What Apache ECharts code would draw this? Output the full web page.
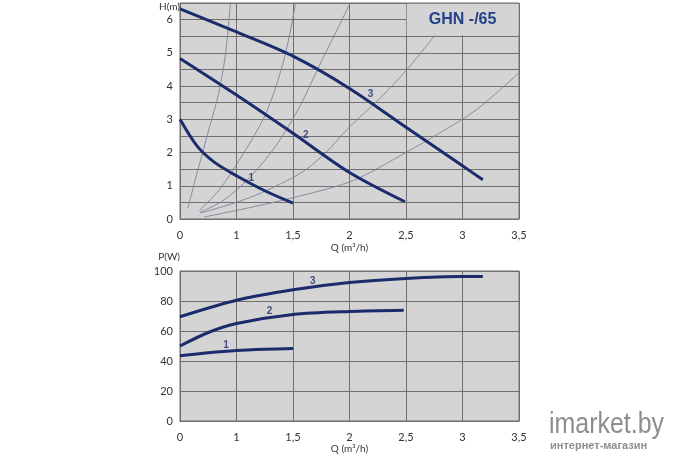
<!DOCTYPE html>
<html><head><meta charset="utf-8">
<script src="https://cdn.jsdelivr.net/npm/echarts@6/dist/echarts.min.js"></script>
<style>html,body{margin:0;padding:0;background:#fff}#c{width:680px;height:460px}</style>
</head><body><div id="c"></div>
<script>
// ---- data ----
// x axis: evenly spaced gridlines labelled as in the original
const qTickLabels = ['0', '1', '1,5', '2', '2,5', '3', '3,5'];
const hTickLabels = ['0', '1', '2', '3', '4', '5', '6'];
const pTickLabels = ['0', '20', '40', '60', '80', '100'];
const curveNames = ['1', '2', '3'];
const chartTitle = 'GHN -/65';

// pump head curves H(Q) for speeds 1..3
const head1 = [[0.5, 3.0], [0.65, 2.2], [0.8, 1.72], [1.0, 1.3], [1.25, 0.85], [1.5, 0.48]];
const head2 = [[0.5, 4.83], [1.0, 3.73], [1.5, 2.58], [2.0, 1.4], [2.49, 0.52]];
const head3 = [[0.5, 6.32], [0.75, 5.98], [1.0, 5.63], [1.5, 4.9], [2.0, 3.93], [2.5, 2.76], [3.0, 1.6], [3.18, 1.18]];

// thin system curves
const sysA = [[0.569, 0.33], [0.66, 1.5], [0.76, 2.75], [0.84, 3.75], [0.9, 4.9], [0.95, 6.6]];
const sysB = [[0.671, 0.25], [0.848, 0.88], [1.026, 1.78], [1.262, 3.19], [1.424, 4.85], [1.528, 6.59]];
const sysC = [[0.677, 0.2], [0.893, 0.58], [1.114, 1.24], [1.336, 2.14], [1.543, 3.28], [1.764, 4.83], [2.02, 6.59]];
const sysD = [[0.683, 0.18], [1.114, 0.64], [1.558, 1.36], [1.78, 1.96], [2.0, 2.77], [2.266, 3.62], [2.504, 4.48], [2.756, 5.53]];
const sysE = [[0.713, 0.06], [1.114, 0.34], [1.498, 0.64], [2.027, 1.15], [2.504, 2.01], [2.799, 2.59], [3.124, 3.29], [3.5, 4.4]];

// power curves P(Q)
const pow1 = [[0.5, 43.5], [0.75, 45.5], [1.0, 47], [1.25, 47.8], [1.5, 48.3]];
const pow2 = [[0.5, 50], [0.75, 59], [1.0, 65], [1.5, 71], [2.0, 73], [2.48, 73.8]];
const pow3 = [[0.5, 69.5], [1.0, 80.5], [1.5, 87.5], [2.0, 92.3], [2.5, 95.0], [3.0, 96.3], [3.18, 96.3]];

// curve number label anchors
const headLabelPos = [[1.13, 1.22], [1.613, 2.53], [2.187, 3.75]];
const powLabelPos = [[0.908, 50.5], [1.292, 73.3], [1.676, 93.3]];

// ---- styles ----
const navy = '#1b2b6b';
const thinColor = '#7d8499';
const plotBg = '#d4d4d4';
const gridColor = '#6f6f6f';
const txt = '#333';
const fam = 'Lato, "Liberation Sans", sans-serif';

function qLabel(v) { const i = Math.round((v - 0.5) / 0.5); return qTickLabels[i] ?? ''; }
function hLabel(v) { return Math.abs(v - Math.round(v)) < 1e-6 ? (hTickLabels[Math.round(v)] ?? '') : ''; }
function pLabel(v) { return pTickLabels[Math.round(v / 20)] ?? ''; }

function xAxis(gridIndex, nameGap) {
  return {
    type: 'value', gridIndex, min: 0.5, max: 3.5, interval: 0.5,
    name: 'Q (m³/h)', nameLocation: 'middle', nameGap,
    nameTextStyle: { fontSize: 10, color: txt, fontFamily: fam },
    axisLine: { show: true, lineStyle: { color: gridColor } },
    axisTick: { show: false },
    axisLabel: { formatter: qLabel, margin: 11, fontSize: 11, color: txt, fontFamily: fam, showMinLabel: true, showMaxLabel: true },
    splitLine: { show: true, lineStyle: { color: gridColor, width: 1 } }
  };
}
function yAxis(gridIndex, max, interval, fmt, name, nameGap) {
  return {
    type: 'value', gridIndex, min: 0, max, interval,
    name, nameLocation: 'end', nameGap,
    nameTextStyle: { fontSize: 10, color: txt, fontFamily: fam, align: 'right', verticalAlign: 'middle', padding: [0, 0, 0, 0] },
    axisLine: { show: true, lineStyle: { color: gridColor } },
    axisTick: { show: false },
    axisLabel: { formatter: fmt, margin: 7, fontSize: 11, color: txt, fontFamily: fam, showMaxLabel: true },
    splitLine: { show: true, lineStyle: { color: gridColor, width: 1 } }
  };
}
function thick(data, xi, yi, extra) {
  return Object.assign({
    type: 'line', xAxisIndex: xi, yAxisIndex: yi, data, showSymbol: false, symbol: 'none',
    smooth: 0.3, silent: true, z: 4,
    lineStyle: { color: navy, width: 3, cap: 'butt' }
  }, extra || {});
}
function thinLine(data) {
  return {
    type: 'line', xAxisIndex: 0, yAxisIndex: 0, data, showSymbol: false, symbol: 'none',
    smooth: 0.3, silent: true, z: 3,
    lineStyle: { color: thinColor, width: 0.9 }
  };
}
function numLabels(pos, xi, yi) {
  return {
    type: 'scatter', xAxisIndex: xi, yAxisIndex: yi, symbolSize: 1, silent: true, z: 5,
    itemStyle: { color: 'rgba(0,0,0,0)' },
    data: pos.map((p, i) => ({ value: p, name: curveNames[i] })),
    label: { show: true, position: 'inside', formatter: '{b}', color: navy, fontSize: 10, fontWeight: 'bold', fontFamily: '"Liberation Sans", Arial, sans-serif' }
  };
}

const chart = echarts.init(document.getElementById('c'), null, { renderer: 'canvas' });
chart.setOption({
  animation: false,
  backgroundColor: '#ffffff',
  grid: [
    { left: 180, top: 3, width: 339, height: 216, show: true, backgroundColor: plotBg, borderColor: gridColor, borderWidth: 1 },
    { left: 180, top: 271, width: 339, height: 150, show: true, backgroundColor: plotBg, borderColor: gridColor, borderWidth: 1 }
  ],
  xAxis: [xAxis(0, 24), xAxis(1, 23)],
  yAxis: [yAxis(0, 6.5, 0.5, hLabel, 'H(m)', -4), yAxis(1, 100, 20, pLabel, 'P(W)', 14)],
  series: [
    thinLine(sysA), thinLine(sysB), thinLine(sysC), thinLine(sysD), thinLine(sysE),
    thick(head1, 0, 0), thick(head2, 0, 0),
    thick(head3, 0, 0, {
      markArea: {
        silent: true,
        itemStyle: { color: plotBg },
        label: { show: true, position: 'inside', formatter: chartTitle, color: '#24418a', fontSize: 16, fontWeight: 'bold', fontFamily: '"Liberation Sans", Arial, sans-serif' },
        data: [[{ coord: [2.506, 5.53] }, { coord: [3.496, 6.48] }]]
      }
    }),
    thick(pow1, 1, 1), thick(pow2, 1, 1), thick(pow3, 1, 1),
    numLabels(headLabelPos, 0, 0), numLabels(powLabelPos, 1, 1)
  ],
  graphic: [
    { type: 'text', x: 549, y: 410, scaleX: 0.86, silent: true,
      style: { text: 'imarket.by', font: '29px "Liberation Sans", sans-serif', fill: '#8e8e8e' } },
    { type: 'text', x: 550, y: 440, silent: true,
      style: { text: 'интернет-магазин', font: 'bold 11px "Liberation Sans", sans-serif', fill: '#8e8e8e' } }
  ]
});
</script>
</body></html>
